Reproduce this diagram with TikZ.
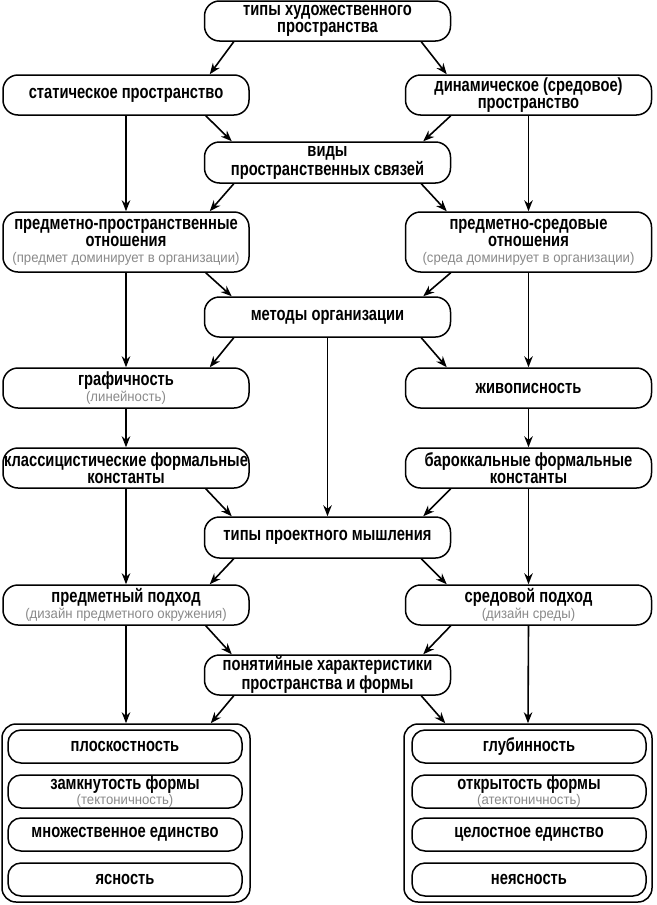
\documentclass[tikz,border=0pt]{standalone}
\usepackage{fontspec}
\newfontfamily\narf[FakeStretch=0.775]{Liberation Sans}
\newfontfamily\litef[FakeStretch=0.94]{Liberation Sans}
\usetikzlibrary{arrows.meta}
\definecolor{subgray}{HTML}{8A8A8A}
\newcommand{\subtxt}[1]{{\litef\mdseries\fontsize{14}{14}\selectfont\color{subgray}#1}}
\tikzset{
  box/.style={draw=black, line width=1.5pt, rounded corners=15pt, fill=white,
    minimum width=246pt, minimum height=40pt, align=center, inner sep=0pt,
    font=\narf\bfseries\fontsize{19}{17.5}\selectfont},
  ibox/.style={box, minimum width=234pt, minimum height=33pt, rounded corners=13pt},
  cont/.style={draw=black, line width=1.5pt, rounded corners=14pt,
    minimum width=248pt, minimum height=178pt, inner sep=0pt},
  arr/.style={line width=1.6pt, -{Stealth[length=11pt,width=8.5pt]}},
}
\begin{document}
\begin{tikzpicture}[x=1pt,y=-1pt]
\fill[white] (0,0) rectangle (656,905);
\useasboundingbox (0,0) rectangle (656,905);

\node[box] (top) at (327.5,21) {типы художественного\\пространства};
\node[box] (stat) at (126,95) {статическое пространство};
\node[box] (dyn) at (528.5,95) {динамическое (средовое)\\пространство};
\node[box, minimum height=41pt] (vid) at (327.5,162.5) {виды\\пространственных связей};
\node[box, minimum height=60pt] (pps) at (126,242) {предметно-пространственные\\отношения\\[-2pt]\subtxt{(предмет доминирует в организации)}};
\node[box, minimum height=60pt] (psr) at (528.5,242) {предметно-средовые\\отношения\\[-2pt]\subtxt{(среда доминирует в организации)}};
\node[box] (met) at (327.5,317) {методы организации};
\node[box] (gra) at (126,388) {графичность\\[-2pt]\subtxt{(линейность)}};
\node[box] (jiv) at (528.5,388) {живописность};
\node[box] (kla) at (126,468) {классицистические формальные\\константы};
\node[box] (bar) at (528.5,468) {бароккальные формальные\\константы};
\node[box, minimum height=41pt] (tip) at (327.5,537.5) {типы проектного мышления};
\node[box] (pre) at (126,605) {предметный подход\\[-2pt]\subtxt{(дизайн предметного окружения)}};
\node[box] (sre) at (528.5,605) {средовой подход\\[-2pt]\subtxt{(дизайн среды)}};
\node[box] (pon) at (327.5,675) {понятийные характеристики\\пространства и формы};

\node[cont] (cl) at (126,813) {};
\node[cont] (cr) at (528,813) {};

\node[ibox] (l1) at (125,746.5) {плоскостность};
\node[ibox] (l2) at (125,791.5) {замкнутость формы\\[-3pt]\subtxt{(тектоничность)}};
\node[ibox] (l3) at (125,834.5) {множественное единство};
\node[ibox] (l4) at (125,879.5) {ясность};
\node[ibox] (r1) at (529,746.5) {глубинность};
\node[ibox] (r2) at (529,791.5) {открытость формы\\[-3pt]\subtxt{(атектоничность)}};
\node[ibox] (r3) at (529,834.5) {целостное единство};
\node[ibox] (r4) at (529,879.5) {неясность};

% middle box -> side boxes (diagonals)
\foreach \m/\l/\r in {top/stat/dyn, vid/pps/psr, met/gra/jiv, tip/pre/sre, pon/cl/cr}{
  \draw[arr] ([xshift=30pt]\m.south west) -- ([xshift=-40pt]\l.north east);
  \draw[arr] ([xshift=-30pt]\m.south east) -- ([xshift=42pt]\r.north west);
}
% side boxes -> middle box (diagonals)
\foreach \l/\r/\m in {stat/dyn/vid, pps/psr/met, kla/bar/tip, pre/sre/pon}{
  \draw[arr] ([xshift=-44pt]\l.south east) -- ([xshift=28pt]\m.north west);
  \draw[arr] ([xshift=46pt]\r.south west) -- ([xshift=-28pt]\m.north east);
}
% vertical arrows
\foreach \a/\b in {stat/pps, dyn/psr, pps/gra, psr/jiv, gra/kla, jiv/bar, kla/pre, bar/sre, pre/cl, sre/cr}{
  \draw[arr] (\a.south) -- (\b.north);
}
\draw[arr] (met.south) -- (tip.north);
\end{tikzpicture}
\end{document}
